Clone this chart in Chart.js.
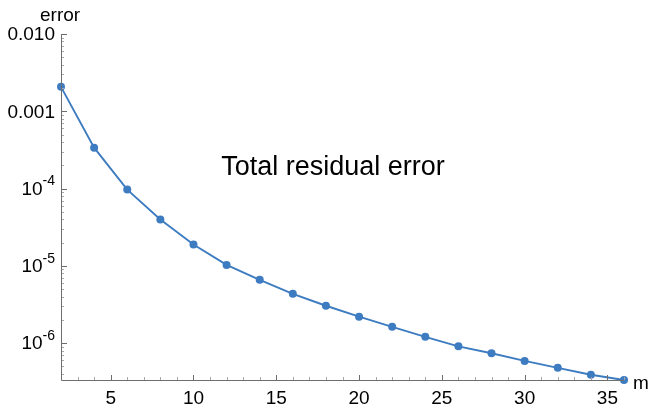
<!DOCTYPE html>
<html>
<head>
<meta charset="utf-8">
<script src="https://cdn.jsdelivr.net/npm/chart.js@4/dist/chart.umd.min.js"></script>
<style>
	html, body { margin: 0; padding: 0; background: #fff; }
	#wrap { width: 648px; height: 410px; }
</style>
</head>
<body>
<div id="wrap"><canvas id="chart" width="648" height="410"></canvas></div>
<script>
'use strict';

// values
var mValues = [2, 4, 6, 8, 10, 12, 14, 16, 18, 20, 22, 24, 26, 28, 30, 32, 34, 36];
var errorValues = [
	2.07e-3, 3.38e-4, 9.7e-5, 3.98e-5, 1.89e-5, 1.03e-5, 6.6e-6, 4.35e-6, 3.05e-6,
	2.2e-6, 1.63e-6, 1.21e-6, 9.1e-7, 7.4e-7, 5.9e-7, 4.8e-7, 3.9e-7, 3.34e-7
];
var xTickLabels = [5, 10, 15, 20, 25, 30, 35];
var yTickDecades = [-2, -3, -4, -5, -6];
var yTickLabels = ['0.010', '0.001', '10|-4', '10|-5', '10|-6'];

var FONT = '"Liberation Sans", Arial, sans-serif';
var AXIS_COLOR = '#6e6e6e';
var MINOR_COLOR = '#a8a8a8';

// inward pointing tick marks, axis labels and the inset title
var decorPlugin = {
	id: 'decor',
	afterDraw: function(chart) {
		var ctx = chart.ctx;
		var xs = chart.scales.x;
		var ys = chart.scales.y;
		var area = chart.chartArea;
		var i, d, k, px, py, v;

		ctx.save();
		ctx.lineWidth = 1;

		// x ticks
		for (v = Math.ceil(xs.min); v <= xs.max; v++) {
			px = Math.round(xs.getPixelForValue(v)) + 0.5;
			var major = v % 5 === 0;
			ctx.strokeStyle = major ? AXIS_COLOR : MINOR_COLOR;
			ctx.beginPath();
			ctx.moveTo(px, area.bottom);
			ctx.lineTo(px, area.bottom - (major ? 5 : 3));
			ctx.stroke();
		}

		// y ticks
		for (d = -7; d <= -2; d++) {
			for (k = 1; k <= 9; k++) {
				v = k * Math.pow(10, d);
				if (v < ys.min * 0.999 || v > ys.max * 1.001) {
					continue;
				}
				py = Math.round(ys.getPixelForValue(v)) + 0.5;
				ctx.strokeStyle = k === 1 ? AXIS_COLOR : MINOR_COLOR;
				ctx.beginPath();
				ctx.moveTo(area.left, py);
				ctx.lineTo(area.left + (k === 1 ? 6 : 3), py);
				ctx.stroke();
			}
		}

		// axis lines
		ctx.strokeStyle = AXIS_COLOR;
		ctx.beginPath();
		ctx.moveTo(area.left + 0.5, area.top);
		ctx.lineTo(area.left + 0.5, area.bottom + 0.5);
		ctx.lineTo(area.right, area.bottom + 0.5);
		ctx.stroke();

		// y tick labels, with real superscripts
		ctx.fillStyle = '#000';
		ctx.textBaseline = 'middle';
		for (i = 0; i < yTickDecades.length; i++) {
			py = ys.getPixelForValue(Math.pow(10, yTickDecades[i]));
			var parts = yTickLabels[i].split('|');
			var right = area.left - 6;
			if (parts.length === 1) {
				ctx.font = '19px ' + FONT;
				ctx.textAlign = 'right';
				ctx.fillText(parts[0], right, py + 1);
			} else {
				ctx.font = '14px ' + FONT;
				var supW = ctx.measureText(parts[1]).width;
				ctx.textAlign = 'right';
				ctx.fillText(parts[1], right, py - 7);
				ctx.font = '19px ' + FONT;
				ctx.fillText(parts[0], right - supW, py + 1);
			}
		}

		// axis names
		ctx.font = '19px ' + FONT;
		ctx.textAlign = 'left';
		ctx.textBaseline = 'alphabetic';
		ctx.fillText('error', 40, 21);
		ctx.fillText('m', 633, 389);

		// inset title
		ctx.font = '27px ' + FONT;
		ctx.textAlign = 'center';
		ctx.fillText('Total residual error', 333, 175);

		ctx.restore();
	}
};

var points = mValues.map(function(m, i) {
	return {x: m, y: errorValues[i]};
});

var chart = new Chart(document.getElementById('chart').getContext('2d'), {
	type: 'line',
	data: {
		datasets: [{
			data: points,
			borderColor: '#3d7cc0',
			backgroundColor: '#3d7cc0',
			borderWidth: 1.9,
			pointRadius: 4,
			pointBorderWidth: 0,
			tension: 0,
			clip: false
		}]
	},
	options: {
		animation: false,
		responsive: false,
		events: [],
		layout: {padding: {left: 0, right: 24, top: 34, bottom: 0}},
		plugins: {legend: {display: false}, tooltip: {enabled: false}},
		scales: {
			x: {
				type: 'linear',
				min: 2,
				max: 36,
				grid: {display: false, drawTicks: false},
				border: {display: false},
				afterBuildTicks: function(scale) {
					scale.ticks = xTickLabels.map(function(v) { return {value: v}; });
				},
				afterFit: function(scale) { scale.height = 30; },
				ticks: {
					color: '#000',
					font: {family: FONT, size: 19},
					padding: 7,
					maxRotation: 0,
					autoSkip: false
				}
			},
			y: {
				type: 'logarithmic',
				min: 3.34e-7,
				max: 0.01,
				grid: {display: false, drawTicks: false},
				border: {display: false},
				afterFit: function(scale) { scale.width = 61; },
				ticks: {display: false}
			}
		}
	},
	plugins: [decorPlugin]
});
</script>
</body>
</html>
